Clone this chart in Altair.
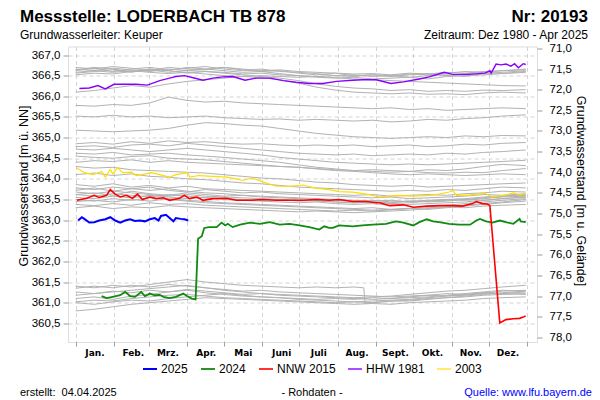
import altair as alt
import pandas as pd

# ground level (m NN) linking left axis (m NN) and right axis (m below ground)
GOK = 438.16

MONTH_START = [0, 31, 59, 90, 120, 151, 181, 212, 243, 273, 304, 334, 365]
MONTH_NAMES = ["Jan.", "Feb.", "Mrz.", "Apr.", "Mai", "Juni", "Juli", "Aug.", "Sept.", "Okt.", "Nov.", "Dez.", ""]
LEFT_TICKS = [360.5, 361.0, 361.5, 362.0, 362.5, 363.0, 363.5, 364.0, 364.5, 365.0, 365.5, 366.0, 366.5, 367.0]
RIGHT_TICKS = [71.0, 71.5, 72.0, 72.5, 73.0, 73.5, 74.0, 74.5, 75.0, 75.5, 76.0, 76.5, 77.0, 77.5, 78.0]

# ---- historical years (grey), sampled every ~15 days ----
grid_days = [0, 15, 30, 45, 60, 75, 90, 105, 120, 135, 150, 165, 180, 195, 210, 225, 240, 255, 270, 285, 300, 315, 330, 345, 364]

u1 = [366.62,366.68,366.60,366.66,366.70,366.64,366.68,366.72,366.66,366.62,366.66,366.60,366.58,366.55,366.50,366.52,366.48,366.50,366.46,366.50,366.52,366.48,366.55,366.58,366.62]
u2 = [366.70,366.66,366.72,366.68,366.62,366.70,366.66,366.64,366.70,366.66,366.62,366.64,366.60,366.58,366.56,366.54,366.55,366.52,366.56,366.54,366.58,366.56,366.60,366.62,366.64]
u3 = [366.56,366.60,366.64,366.58,366.66,366.62,366.70,366.66,366.62,366.58,366.60,366.55,366.50,366.46,366.44,366.46,366.42,366.44,366.46,366.42,366.48,366.50,366.52,366.55,366.58]
u4 = [366.66,366.62,366.58,366.62,366.58,366.55,366.58,366.54,366.50,366.48,366.45,366.40,366.32,366.22,366.15,366.10,366.08,366.06,366.08,366.05,366.06,366.04,366.08,366.10,366.08]
u5 = [366.52,366.56,366.54,366.60,366.64,366.58,366.62,366.60,366.56,366.52,366.48,366.44,366.38,366.30,366.24,366.20,366.18,366.14,366.16,366.12,366.14,366.12,366.15,366.14,366.16]
u6 = [366.10,366.14,366.20,366.26,366.22,366.30,366.36,366.40,366.44,366.48,366.50,366.48,366.46,366.48,366.50,366.48,366.52,366.50,366.54,366.52,366.56,366.60,366.58,366.62,366.66]
u7 = [366.64,366.70,366.66,366.60,366.66,366.62,366.56,366.60,366.58,366.54,366.56,366.52,366.50,366.48,366.45,366.42,366.40,366.38,366.36,366.34,366.32,366.30,366.28,366.26,366.25]
u8 = [366.58,366.62,366.68,366.64,366.60,366.66,366.62,366.66,366.70,366.64,366.60,366.62,366.56,366.52,366.56,366.50,366.52,366.48,366.52,366.55,366.50,366.54,366.58,366.55,366.60]
m1 = [365.78,365.76,365.80,365.78,365.84,365.98,365.90,365.86,365.88,365.84,365.82,365.80,365.78,365.76,365.74,365.72,365.70,365.72,365.68,365.70,365.66,365.68,365.70,365.72,365.70]
m3 = [365.52,365.50,365.54,365.50,365.52,365.48,365.50,365.52,365.48,365.46,365.44,365.45,365.42,365.44,365.42,365.40,365.42,365.38,365.40,365.44,365.42,365.46,365.48,365.52,365.55]
m4 = [365.18,365.16,365.14,365.16,365.18,365.22,365.30,365.36,365.34,365.30,365.28,365.22,365.16,365.10,365.06,365.02,365.00,364.98,365.00,365.02,365.00,365.04,365.02,365.05,365.04]
w1 = [364.85,364.88,364.84,364.90,364.86,364.92,364.88,364.90,364.86,364.84,364.85,364.82,364.80,364.82,364.80,364.82,364.78,364.80,364.82,364.78,364.80,364.84,364.82,364.86,364.88]
w2 = [364.78,364.80,364.76,364.82,364.84,364.80,364.86,364.82,364.78,364.74,364.70,364.66,364.62,364.60,364.58,364.60,364.56,364.58,364.60,364.58,364.62,364.60,364.64,364.66,364.70]
w3 = [364.72,364.70,364.74,364.70,364.66,364.70,364.74,364.70,364.66,364.62,364.58,364.52,364.48,364.44,364.40,364.38,364.36,364.34,364.36,364.34,364.36,364.38,364.40,364.42,364.45]
w4 = [364.62,364.60,364.64,364.58,364.60,364.62,364.58,364.55,364.52,364.48,364.44,364.40,364.34,364.28,364.24,364.20,364.18,364.16,364.18,364.15,364.14,364.16,364.15,364.20,364.25]
w5 = [364.55,364.52,364.50,364.54,364.56,364.50,364.48,364.46,364.42,364.38,364.34,364.30,364.28,364.24,364.20,364.18,364.15,364.12,364.10,364.12,364.10,364.08,364.10,364.12,364.10]
w6 = [364.40,364.44,364.42,364.46,364.40,364.44,364.40,364.38,364.36,364.34,364.32,364.30,364.28,364.25,364.22,364.20,364.22,364.20,364.18,364.22,364.20,364.24,364.30,364.35,364.32]
b1 = [364.30,364.26,364.28,364.22,364.20,364.18,364.16,364.14,364.10,364.06,364.02,364.00,363.96,363.92,363.90,363.86,363.84,363.82,363.84,363.80,363.82,363.84,363.86,363.88,363.90]
b2 = [364.10,364.14,364.08,364.12,364.06,364.04,364.00,363.98,363.94,363.90,363.88,363.84,363.80,363.78,363.76,363.74,363.72,363.70,363.72,363.70,363.74,363.72,363.76,363.80,363.78]
b3 = [363.86,363.82,363.88,363.80,363.84,363.78,363.82,363.76,363.74,363.72,363.70,363.68,363.66,363.64,363.62,363.60,363.62,363.58,363.60,363.62,363.60,363.64,363.66,363.70,363.68]
b4 = [363.72,363.78,363.70,363.76,363.80,363.72,363.68,363.74,363.70,363.66,363.68,363.64,363.62,363.60,363.58,363.56,363.54,363.56,363.52,363.54,363.56,363.58,363.62,363.60,363.64]
b5 = [363.62,363.66,363.60,363.70,363.64,363.60,363.66,363.62,363.58,363.60,363.56,363.54,363.52,363.50,363.48,363.46,363.48,363.44,363.46,363.48,363.50,363.52,363.56,363.58,363.60]
b6 = [363.55,363.52,363.58,363.54,363.60,363.56,363.52,363.55,363.50,363.48,363.46,363.44,363.42,363.44,363.40,363.38,363.40,363.36,363.38,363.40,363.42,363.44,363.48,363.52,363.55]
b7 = [363.45,363.48,363.44,363.50,363.46,363.52,363.48,363.45,363.42,363.40,363.38,363.36,363.34,363.32,363.30,363.28,363.30,363.26,363.28,363.30,363.32,363.30,363.34,363.36,363.38]
b8 = [363.38,363.35,363.40,363.36,363.42,363.38,363.40,363.36,363.34,363.32,363.30,363.28,363.26,363.24,363.22,363.24,363.22,363.25,363.28,363.26,363.30,363.34,363.38,363.42,363.46]
b9 = [363.30,363.34,363.28,363.32,363.30,363.35,363.32,363.30,363.28,363.26,363.24,363.22,363.20,363.22,363.20,363.18,363.20,363.22,363.24,363.28,363.32,363.36,363.40,363.44,363.50]
b10 = [363.62,363.58,363.64,363.60,363.56,363.62,363.58,363.54,363.52,363.50,363.48,363.50,363.46,363.48,363.44,363.42,363.44,363.40,363.42,363.46,363.50,363.48,363.52,363.56,363.58]
b11 = [363.78,363.74,363.80,363.76,363.72,363.76,363.70,363.66,363.64,363.60,363.58,363.56,363.54,363.52,363.50,363.48,363.46,363.48,363.44,363.46,363.48,363.50,363.54,363.58,363.62]
b12 = [363.50,363.46,363.52,363.48,363.54,363.50,363.46,363.42,363.40,363.38,363.36,363.34,363.32,363.30,363.28,363.26,363.24,363.26,363.28,363.32,363.36,363.40,363.44,363.48,363.52]
b13 = [363.68,363.64,363.70,363.66,363.62,363.58,363.62,363.58,363.56,363.54,363.52,363.50,363.48,363.46,363.44,363.42,363.44,363.42,363.46,363.44,363.46,363.50,363.48,363.52,363.56]
l1 = [360.80,360.84,360.90,360.96,361.00,361.04,361.08,361.12,361.10,361.08,361.06,361.04,361.02,361.00,360.98,360.96,360.98,360.96,361.00,361.02,361.04,361.06,361.10,361.12,361.14]
l2 = [361.02,361.06,361.04,361.10,361.14,361.18,361.20,361.16,361.12,361.10,361.08,361.06,361.04,361.02,361.00,361.02,361.00,361.04,361.06,361.10,361.12,361.14,361.18,361.20,361.22]
l3 = [361.10,361.14,361.08,361.16,361.20,361.26,361.30,361.24,361.20,361.16,361.14,361.12,361.10,361.08,361.10,361.08,361.12,361.10,361.14,361.18,361.16,361.20,361.24,361.22,361.26]
l4 = [361.18,361.22,361.26,361.30,361.34,361.38,361.42,361.36,361.30,361.26,361.22,361.20,361.18,361.16,361.14,361.12,361.14,361.16,361.20,361.24,361.28,361.30,361.34,361.38,361.42]
l5 = [361.26,361.22,361.28,361.24,361.30,361.26,361.32,361.28,361.24,361.20,361.22,361.18,361.16,361.14,361.12,361.10,361.08,361.10,361.12,361.14,361.18,361.22,361.26,361.30,361.28]
l6 = [361.35,361.40,361.36,361.42,361.38,361.44,361.40,361.36,361.32,361.28,361.30,361.26,361.24,361.22,361.20,361.18,361.16,361.14,361.16,361.18,361.22,361.20,361.24,361.22,361.20]
l8 = [361.00,360.96,361.02,361.06,361.04,361.10,361.14,361.18,361.22,361.18,361.14,361.12,361.08,361.06,361.04,361.02,361.04,361.06,361.08,361.12,361.16,361.18,361.22,361.28,361.30]
# one year with a step in August
l7_days = [0, 15, 30, 45, 60, 75, 90, 105, 120, 135, 150, 165, 180, 195, 210, 225, 233, 234, 240, 255, 270, 285, 300, 315, 330, 345, 364]
l7_vals = [361.40,361.36,361.42,361.38,361.44,361.50,361.56,361.50,361.46,361.42,361.40,361.38,361.36,361.38,361.36,361.38,361.36,360.98,361.00,361.04,361.04,361.08,361.12,361.16,361.20,361.24,361.28]

grey_sets = {
    "u1": u1, "u2": u2, "u3": u3, "u4": u4, "u5": u5, "u6": u6, "u7": u7, "u8": u8,
    "m1": m1, "m3": m3, "m4": m4,
    "w1": w1, "w2": w2, "w3": w3, "w4": w4, "w5": w5, "w6": w6,
    "b1": b1, "b2": b2, "b3": b3, "b4": b4, "b5": b5, "b6": b6, "b7": b7, "b8": b8,
    "b9": b9, "b10": b10, "b11": b11, "b12": b12, "b13": b13,
    "l1": l1, "l2": l2, "l3": l3, "l4": l4, "l5": l5, "l6": l6, "l8": l8,
}

# ---- highlighted years ----
y2025_days = [2,5,7,11,15,19,24,28,32,36,40,44,48,52,56,60,64,67,69,73,76,79,81,85,88,91]
y2025_vals = [362.99,363.07,363.03,362.94,362.95,362.99,363.02,363.07,362.99,362.94,362.99,363.02,362.98,362.99,362.97,363.02,363.05,362.99,363.10,363.13,363.05,362.97,363.05,363.03,363.02,362.99]

y2024_days = [21,25,30,36,40,44,48,53,56,60,64,68,71,76,81,87,90,94,97,99,102,104,108,114,118,121,123,127,133,141,149,157,165,173,181,189,197,201,205,208,213,224,232,240,251,259,265,273,278,284,289,294,302,310,319,324,327,332,337,343,348,354,359,360,364]
y2024_vals = [361.16,361.11,361.14,361.18,361.26,361.16,361.14,361.26,361.16,361.22,361.18,361.19,361.14,361.11,361.14,361.22,361.16,361.10,361.08,362.55,362.61,362.81,362.83,362.83,362.94,362.87,362.91,362.83,362.89,362.94,362.91,362.95,362.89,362.91,362.87,362.83,362.77,362.85,362.81,362.81,362.87,362.85,362.87,362.89,362.91,362.97,362.94,362.87,362.95,363.02,362.97,362.95,362.91,362.89,362.89,362.99,363.03,362.97,362.94,362.99,362.95,362.91,363.03,362.97,362.95]

nnw2015_days = [1,9,15,19,25,28,32,36,41,46,50,54,60,65,71,76,84,88,92,98,103,111,122,130,141,152,162,173,184,195,205,213,224,235,243,246,254,265,273,284,294,305,313,321,324,329,333,335,343,348,354,359,362,364]
nnw2015_vals = [363.48,363.53,363.60,363.55,363.60,363.74,363.63,363.56,363.60,363.53,363.63,363.50,363.56,363.52,363.54,363.48,363.53,363.60,363.52,363.56,363.48,363.52,363.53,363.48,363.48,363.50,363.48,363.48,363.48,363.50,363.48,363.50,363.45,363.45,363.42,363.42,363.35,363.37,363.31,363.34,363.35,363.35,363.34,363.40,363.45,363.40,363.39,363.35,360.51,360.59,360.61,360.62,360.65,360.68]

hhw1981_days = [3,11,18,24,31,40,49,58,68,76,81,88,95,103,111,119,127,137,146,157,168,178,189,200,211,224,232,243,255,265,278,286,298,305,318,331,335,336,340,344,348,352,355,358,362,364]
hhw1981_vals = [366.19,366.20,366.26,366.18,366.29,366.29,366.29,366.27,366.38,366.44,366.48,366.50,366.45,366.39,366.44,366.47,366.48,366.39,366.44,366.44,366.38,366.34,366.31,366.31,366.36,366.39,366.40,366.40,366.31,366.35,366.42,366.47,366.58,366.53,366.53,366.56,366.62,366.56,366.78,366.76,366.78,366.73,366.79,366.69,366.79,366.77]

y2003_days = [1,7,14,21,24,28,30,34,38,45,49,54,61,68,76,81,91,92,100,111,122,130,135,143,152,162,173,184,195,205,213,224,235,246,259,273,286,294,302,305,308,319,331,337,348,354,359,364]
y2003_vals = [364.26,364.15,364.10,364.18,364.04,364.23,364.12,364.27,364.15,364.16,364.08,364.10,364.15,364.10,364.04,364.10,364.15,364.04,364.08,364.06,364.04,364.00,363.96,364.02,363.92,363.82,363.82,363.85,363.77,363.74,363.69,363.68,363.63,363.56,363.60,363.58,363.60,363.63,363.68,363.71,363.60,363.61,363.65,363.56,363.61,363.66,363.61,363.64]

SERIES = ["2025", "2024", "NNW 2015", "HHW 1981", "2003"]
COLORS = ["#0000ff", "#108a10", "#ff0000", "#8a00ff", "#ffdd00"]
WIDTHS = [2.0, 1.2, 1.2, 1.5, 1.3]

# ---- tables ----
grey_rows = []
for name, vals in grey_sets.items():
    for d, v in zip(grid_days, vals):
        grey_rows.append({"series": name, "day": d, "value": v})
for d, v in zip(l7_days, l7_vals):
    grey_rows.append({"series": "l7", "day": d, "value": v})
grey_df = pd.DataFrame(grey_rows)

col_rows = []
for name, ds, vs in [("2025", y2025_days, y2025_vals), ("2024", y2024_days, y2024_vals),
                     ("NNW 2015", nnw2015_days, nnw2015_vals), ("HHW 1981", hhw1981_days, hhw1981_vals),
                     ("2003", y2003_days, y2003_vals)]:
    for d, v in zip(ds, vs):
        col_rows.append({"series": name, "day": d, "value": v})
col_df = pd.DataFrame(col_rows)

FONT = "Liberation Sans"
GRID = "#d4d4d4"
FRAME = "#9a9a9a"

month_expr = "[" + ",".join("'%s'" % m for m in MONTH_NAMES) + "][indexof([" + ",".join(str(m) for m in MONTH_START) + "], datum.value)]"
num_expr = "replace(format(datum.value, '.1f'), '.', ',')"

x_enc = alt.X("day:Q",
              scale=alt.Scale(domain=[-6.2, 373.1], nice=False, zero=False),
              axis=alt.Axis(values=MONTH_START, labelExpr=month_expr, labelOffset=18.8,
                            grid=True, gridDash=[4, 3], gridColor=GRID, domain=False,
                            tickColor=FRAME, tickSize=4, labelFont="DejaVu Sans", labelFontWeight="bold",
                            labelFontSize=9, labelPadding=2, labelOverlap=False, labelBound=False,
                            labelFlush=False, title=None, labelColor="black"))

y_enc = alt.Y("value:Q",
              scale=alt.Scale(domain=[360.047, 367.206], nice=False, zero=False),
              axis=alt.Axis(values=LEFT_TICKS, labelExpr=num_expr, grid=True, gridDash=[4, 3],
                            gridColor=GRID, domain=False, tickColor=FRAME, tickSize=5, labelPadding=3,
                            labelFont=FONT, labelFontSize=11.5, title=None, labelColor="black"))

grey = alt.Chart(grey_df).mark_line(color="#b2b2b2", strokeWidth=1).encode(
    x=x_enc, y=y_enc, detail="series:N")

colored = alt.Chart(col_df).mark_line().encode(
    x=x_enc, y=y_enc,
    color=alt.Color("series:N", scale=alt.Scale(domain=SERIES, range=COLORS),
                    legend=alt.Legend(orient="none", legendX=74, legendY=314.5, direction="horizontal",
                                      title=None, symbolType="stroke", symbolSize=196, symbolStrokeWidth=2,
                                      labelFont=FONT, labelFontSize=12, labelOffset=3, columnPadding=9,
                                      padding=0, labelColor="black")),
    strokeWidth=alt.StrokeWidth("series:N", scale=alt.Scale(domain=SERIES, range=WIDTHS), legend=None),
    detail="series:N")

right = alt.Chart(col_df).transform_calculate(depth=f"{GOK} - datum.value").mark_line(opacity=0).encode(
    x=x_enc,
    y=alt.Y("depth:Q", scale=alt.Scale(domain=[70.954, 78.113], reverse=True, nice=False, zero=False),
            axis=alt.Axis(orient="right", values=RIGHT_TICKS, labelExpr=num_expr, grid=False, domain=False,
                          tickColor=FRAME, tickSize=5, labelPadding=7, labelFont=FONT, labelFontSize=11.5,
                          title=None, labelColor="black")),
    detail="series:N")


def label(txt, x, y, size, align="left", baseline="alphabetic", weight="normal", color="black", angle=0):
    return alt.Chart(pd.DataFrame({"t": [txt]})).mark_text(
        align=align, baseline=baseline, fontSize=size, fontWeight=weight, color=color,
        angle=angle, font=FONT).encode(x=alt.value(x), y=alt.value(y), text="t:N")


texts = [
    label("Messstelle: LODERBACH TB 878", -48, -24.5, 17, weight="bold"),
    label("Nr: 20193", 520, -24.5, 17, align="right", weight="bold"),
    label("Grundwasserleiter: Keuper", -48, -7.5, 12),
    label("Zeitraum: Dez 1980 - Apr 2025", 520, -7.5, 12, align="right"),
    label("Grundwasserstand [m ü. NN]", -44, 139.5, 12.5, align="center", baseline="middle", angle=270),
    label("Grundwasserstand [m u. Gelände]", 513, 144.5, 12.5, align="center", baseline="middle", angle=90),
    label("erstellt:\u00a0\u00a004.04.2025", -48, 346.5, 11, baseline="middle"),
    label("- Rohdaten -", 244, 346.5, 11, align="center", baseline="middle"),
    label("Quelle: www.lfu.bayern.de", 524, 346.5, 11, align="right", baseline="middle", color="#0000ff"),
]

chart = alt.layer(alt.layer(grey, colored), right, *texts).resolve_scale(
    y="independent"
).properties(
    width=469, height=295.5, autosize="none",
    padding={"left": 60, "top": 38.5, "right": 55, "bottom": 57},
).configure_view(stroke=FRAME, strokeWidth=1).configure(background="white")

chart.save("out.html", embed_options={"renderer": "svg", "actions": False})
